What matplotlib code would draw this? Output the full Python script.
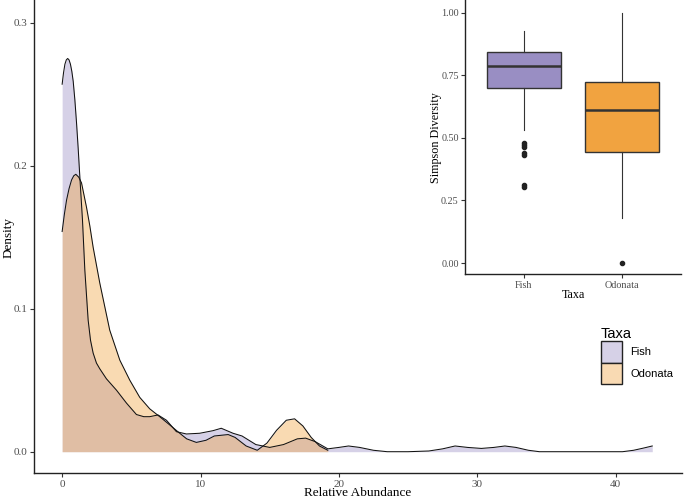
import matplotlib
matplotlib.use("Agg")
import matplotlib.pyplot as plt
from matplotlib.patches import Patch

# ---------------- data ----------------
taxa = ["Fish", "Odonata"]

fish_x = [0.0, 0.1, 0.2, 0.3, 0.4, 0.5, 0.6, 0.7, 0.8, 0.92, 1.04, 1.16, 1.28, 1.47, 1.64,
          1.88, 2.05, 2.24, 2.48, 2.72, 3.2, 3.93, 4.65, 5.37, 5.9, 6.33, 6.93, 7.54, 8.26,
          8.98, 9.94, 10.9, 11.5, 12.35, 13.0, 14.0, 15.0, 16.0, 17.0, 17.6, 18.3, 19.2,
          20.0, 20.7, 21.5, 22.5, 23.5, 25.0, 26.5, 27.5, 28.4, 29.3, 30.3, 31.2, 32.0,
          32.8, 33.7, 34.5, 40.5, 41.3, 42.0, 42.65]
fish_density = [0.257, 0.265, 0.271, 0.274, 0.275, 0.274, 0.271, 0.266, 0.259, 0.246,
                0.230, 0.212, 0.192, 0.162, 0.127, 0.092, 0.078, 0.069, 0.062, 0.058,
                0.051, 0.043, 0.034, 0.026, 0.0245, 0.0245, 0.0257, 0.022, 0.014, 0.0124,
                0.0129, 0.0147, 0.0164, 0.0129, 0.011, 0.005, 0.003, 0.005, 0.009, 0.0095,
                0.007, 0.002, 0.003, 0.004, 0.003, 0.001, 0.0, 0.0, 0.0005, 0.002, 0.004,
                0.003, 0.0023, 0.003, 0.004, 0.003, 0.001, 0.0, 0.0, 0.001, 0.0025, 0.004]

odonata_x = [0.0, 0.16, 0.32, 0.5, 0.68, 0.84, 0.99, 1.2, 1.4, 1.76, 2.0, 2.24, 2.72, 3.44,
             4.17, 4.89, 5.61, 6.33, 7.05, 7.78, 8.5, 9.0, 9.7, 10.4, 11.0, 12.0, 12.5,
             13.3, 14.1, 14.8, 15.5, 16.2, 16.8, 17.4, 18.0, 18.6, 19.2]
odonata_density = [0.154, 0.166, 0.176, 0.184, 0.190, 0.193, 0.194, 0.192, 0.188, 0.171,
                   0.158, 0.143, 0.118, 0.085, 0.064, 0.050, 0.038, 0.030, 0.0245, 0.0187,
                   0.0129, 0.009, 0.0065, 0.008, 0.011, 0.012, 0.010, 0.004, 0.001, 0.006,
                   0.015, 0.022, 0.023, 0.018, 0.010, 0.004, 0.001]

# Simpson diversity boxplot summary
fish_box = dict(q1=0.699, med=0.787, q3=0.844, whislo=0.531, whishi=0.927)
fish_outliers = [0.48, 0.471, 0.464, 0.44, 0.433, 0.312, 0.305]
odonata_box = dict(q1=0.444, med=0.611, q3=0.722, whislo=0.18, whishi=1.0)
odonata_outliers = [0.0]

x_ticks = [0, 10, 20, 30, 40]
y_ticks = [0.0, 0.1, 0.2, 0.3]
inset_y_ticks = [0.0, 0.25, 0.5, 0.75, 1.0]

fish_color = "#998ec3"
odonata_color = "#f1a340"

# ---------------- figure ----------------
W, H = 685, 501
fig = plt.figure(figsize=(W / 100, H / 100), dpi=100)

serif = ["Liberation Serif", "DejaVu Serif"]
sans = ["Liberation Sans", "DejaVu Sans"]
tick_grey = "#4d4d4d"

ax = fig.add_axes([33.5 / W, (H - 473.3) / H, (682 - 33.5) / W, 473.3 / H])
ax.fill_between(fish_x, fish_density, 0, color=fish_color, alpha=0.4, lw=0)
ax.plot(fish_x, fish_density, color="#111111", lw=0.75)
ax.fill_between(odonata_x, odonata_density, 0, color=odonata_color, alpha=0.4, lw=0)
ax.plot(odonata_x, odonata_density, color="#111111", lw=0.75)

ax.set_xlim(-2.07, 44.8)
ax.set_ylim(-0.0151, 0.3159)
ax.set_xticks(x_ticks)
ax.set_xticklabels([str(t) for t in x_ticks], family=serif, fontsize=8, color=tick_grey)
ax.set_yticks(y_ticks)
ax.set_yticklabels([f"{t:.1f}" for t in y_ticks], family=serif, fontsize=8, color=tick_grey)
for s in ["top", "right"]:
    ax.spines[s].set_visible(False)
for s in ["left", "bottom"]:
    ax.spines[s].set_linewidth(1.0)
    ax.spines[s].set_color("#222222")
ax.tick_params(axis="both", length=3, width=0.8, color="#333333", pad=1.5)
ax.set_xlabel("Relative Abundance", family=serif, fontsize=9.5, va="center")
ax.xaxis.set_label_coords((358 - 33.5) / (682 - 33.5), -(493.5 - 473.3) / 473.3)
ax.set_ylabel("Density", family=serif, fontsize=9.5, va="center")
ax.yaxis.set_label_coords(-(33.5 - 8.5) / (682 - 33.5), (473.3 - 237) / 473.3)

handles = [Patch(facecolor=(0.84, 0.82, 0.906), edgecolor="#222222", lw=1.0),
           Patch(facecolor=(0.976, 0.855, 0.70), edgecolor="#222222", lw=1.0)]
leg = ax.legend(handles, taxa, title="Taxa", loc="upper left",
                bbox_to_anchor=(601 / W, (H - 327) / H), bbox_transform=fig.transFigure,
                frameon=False, prop={"family": sans, "size": 8},
                handlelength=1.9, handleheight=2.6, labelspacing=0.0,
                handletextpad=0.72, borderaxespad=0, borderpad=0)
leg.get_title().set_fontfamily(sans)
leg.get_title().set_fontsize(10.5)
leg._legend_box.align = "left"

# ---------------- inset ----------------
ax2 = fig.add_axes([465 / W, (H - 274.3) / H, (681 - 465) / W, 274.3 / H])
stats = []
for box, outs, lab in [(fish_box, fish_outliers, taxa[0]), (odonata_box, odonata_outliers, taxa[1])]:
    d = dict(box)
    d["fliers"] = outs
    d["label"] = lab
    stats.append(d)
bp = ax2.bxp(stats, positions=[1, 2], widths=0.75, patch_artist=True, showcaps=False,
             boxprops=dict(edgecolor="#333333", lw=1.0),
             medianprops=dict(color="#333333", lw=1.8),
             whiskerprops=dict(color="#333333", lw=0.8),
             flierprops=dict(marker="o", markersize=3, markerfacecolor="#222222",
                             markeredgecolor="#222222"))
for patch, c in zip(bp["boxes"], [fish_color, odonata_color]):
    patch.set_facecolor(c)

ax2.set_xlim(0.4, 2.6)
ax2.set_ylim(-0.045, 1.05)
ax2.set_yticks(inset_y_ticks)
ax2.set_yticklabels([f"{t:.2f}" for t in inset_y_ticks], family=serif, fontsize=7.3, color=tick_grey)
ax2.set_xticks([1, 2])
ax2.set_xticklabels(taxa, family=serif, fontsize=7.3, color=tick_grey)
for s in ["top", "right"]:
    ax2.spines[s].set_visible(False)
for s in ["left", "bottom"]:
    ax2.spines[s].set_linewidth(1.0)
    ax2.spines[s].set_color("#222222")
ax2.tick_params(axis="both", length=3, width=0.8, color="#333333", pad=1.5)
ax2.set_xlabel("Taxa", family=serif, fontsize=8.7, va="center")
ax2.xaxis.set_label_coords((573 - 465) / (681 - 465), -(295.5 - 274.3) / 274.3)
ax2.set_ylabel("Simpson Diversity", family=serif, fontsize=8.7, va="center")
ax2.yaxis.set_label_coords(-(465 - 436) / (681 - 465), (274.3 - 138) / 274.3)
ax2.patch.set_alpha(0)

fig.savefig("out.png", dpi=100)
